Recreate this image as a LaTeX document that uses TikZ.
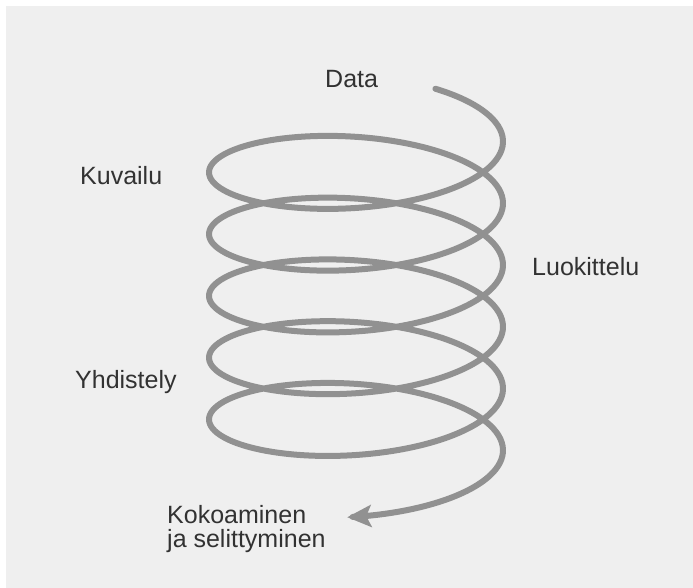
\documentclass[tikz,border=0pt]{standalone}
\usepackage{fontspec}
\setmainfont{Liberation Sans}
\usetikzlibrary{arrows.meta}
\definecolor{paneltone}{RGB}{239,239,239}
\definecolor{coilgrey}{RGB}{145,145,145}
\definecolor{labelink}{RGB}{50,50,50}

\begin{document}
\begin{tikzpicture}[x=1pt, y=-1pt,
		labeltext/.style={text=labelink, inner sep=0pt, anchor=base west,
			font=\fontsize{25}{24}\selectfont, align=left},
		coil/.style={draw=coilgrey, line width=6pt, line cap=round, line join=round,
			-{Stealth[length=24pt, width=22pt, inset=5pt]}}
	]
		\useasboundingbox (0,0) rectangle (693,588);
		\fill[paneltone] (6,6) rectangle (693,588);
		% labels
		\node[labeltext] (data) at (325,88) {Data};
		\node[labeltext] (kuvailu) at (80,185) {Kuvailu};
		\node[labeltext] (luokittelu) at (532,275) {Luokittelu};
		\node[labeltext] (yhdistely) at (75,388) {Yhdistely};
		\node[labeltext] (kokoaminen) at (167,547) {Kokoaminen\\ja selittyminen};
		% the spiral
		\draw[coil] plot[domain=-1.0:33.05, samples=600, smooth, variable=\t]
			({356+147*cos(\t r)}, {141.5+51*sin(\t r)+9.83*\t});
	\end{tikzpicture}
\end{document}
